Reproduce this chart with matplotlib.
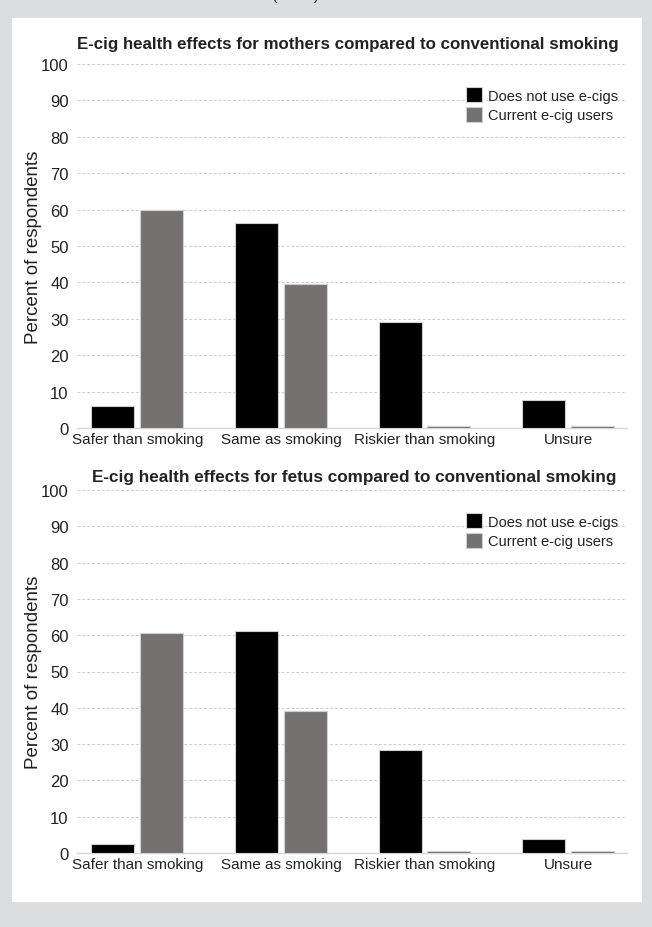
import numpy as np
import matplotlib
matplotlib.use("Agg")
import matplotlib.pyplot as plt

# survey categories and responses (percent)
categories = ["Safer than smoking", "Same as smoking", "Riskier than smoking", "Unsure"]
series_names = ["Does not use e-cigs", "Current e-cig users"]

mothers_non_users = [6.0, 56.3, 29.1, 7.7]
mothers_users = [60.0, 39.6, 0.5, 0.5]

fetus_non_users = [2.4, 61.1, 28.4, 3.9]
fetus_users = [60.5, 39.0, 0.5, 0.5]

titles = ["E-cig health effects for mothers compared to conventional smoking",
          "E-cig health effects for fetus compared to conventional smoking"]
yticks = list(range(0, 101, 10))

bg = "#dcdddf"
gray_bar = "#767171"
font = "Liberation Sans"
ink = "#222222"

fig = plt.figure(figsize=(6.52, 9.28), dpi=100, facecolor=bg)
W, H = 652, 928

# white panel behind both charts
panel = plt.Rectangle((12 / W, 1 - 903 / H), 630 / W, 884 / H,
                      transform=fig.transFigure, facecolor="white", edgecolor="none", zorder=-1)
fig.patches.append(panel)

fig.text(296 / W, 1.0, "(cont.)", ha="center", va="baseline", fontsize=12,
         family=font, color="#333333")

# axes boxes in pixels: (left, right, y of 100, y of 0)
boxes = [(77, 627, 65, 429), (77, 627, 491, 854)]
data = [(mothers_non_users, mothers_users), (fetus_non_users, fetus_users)]
title_pos = [(78, 618, 44), (94, 615, 478)]

x = np.arange(len(categories))
w = 0.30
off = 0.17

renderer = fig.canvas.get_renderer()


def fit_width(txt, px):
    # shrink or grow the font so the text spans px pixels
    ext = txt.get_window_extent(renderer)
    txt.set_fontsize(txt.get_fontsize() * px / ext.width)


for (l, r, t, b), (s1, s2), title, (tl, tr, ty) in zip(boxes, data, titles, title_pos):
    ax = fig.add_axes([l / W, 1 - b / H, (r - l) / W, (b - t) / H], zorder=2)
    ax.set_facecolor("none")
    ax.bar(x - off, s1, w, color="black", edgecolor="#cfcfcf", linewidth=0.8,
           label=series_names[0], zorder=3)
    ax.bar(x + off, s2, w, color=gray_bar, edgecolor="#cfcfcf", linewidth=0.8,
           label=series_names[1], zorder=3)
    ax.set_xlim(-0.42, 3.41)
    ax.set_ylim(0, 100)
    ax.set_yticks(yticks)
    ax.set_yticklabels([str(v) for v in yticks], family=font, fontsize=12, color=ink)
    ax.set_xticks(x)
    ax.set_xticklabels(categories, family=font, fontsize=11, color=ink)
    ax.tick_params(length=0, pad=6)
    ax.tick_params(axis="x", pad=3)
    ax.grid(axis="y", color="#cccccc", linestyle=(0, (3, 2)), linewidth=0.7, zorder=0)
    ax.set_axisbelow(True)
    for s in ["top", "right", "left"]:
        ax.spines[s].set_visible(False)
    ax.spines["bottom"].set_color("#d5d5d5")
    ax.spines["bottom"].set_linewidth(1.0)
    ax.set_ylabel("Percent of respondents", family=font, fontsize=13.5, color=ink)
    ax.yaxis.set_label_coords((42 - l) / (r - l), 0.5)
    ttl = fig.text((tl + tr) / 2 / W, 1 - ty / H, title, ha="center", va="center",
                   family=font, fontweight="bold", fontsize=13, color=ink)
    fit_width(ttl, tr - tl)
    leg = ax.legend(loc="upper right", bbox_to_anchor=(1.0, 0.96), frameon=False,
                    prop={"family": font, "size": 10.5}, handlelength=1.1,
                    handleheight=1.2, handletextpad=0.4, labelspacing=0.3,
                    borderaxespad=0.2)
    for txt in leg.get_texts():
        txt.set_color(ink)

fig.savefig("out.png", dpi=100, facecolor=bg)
